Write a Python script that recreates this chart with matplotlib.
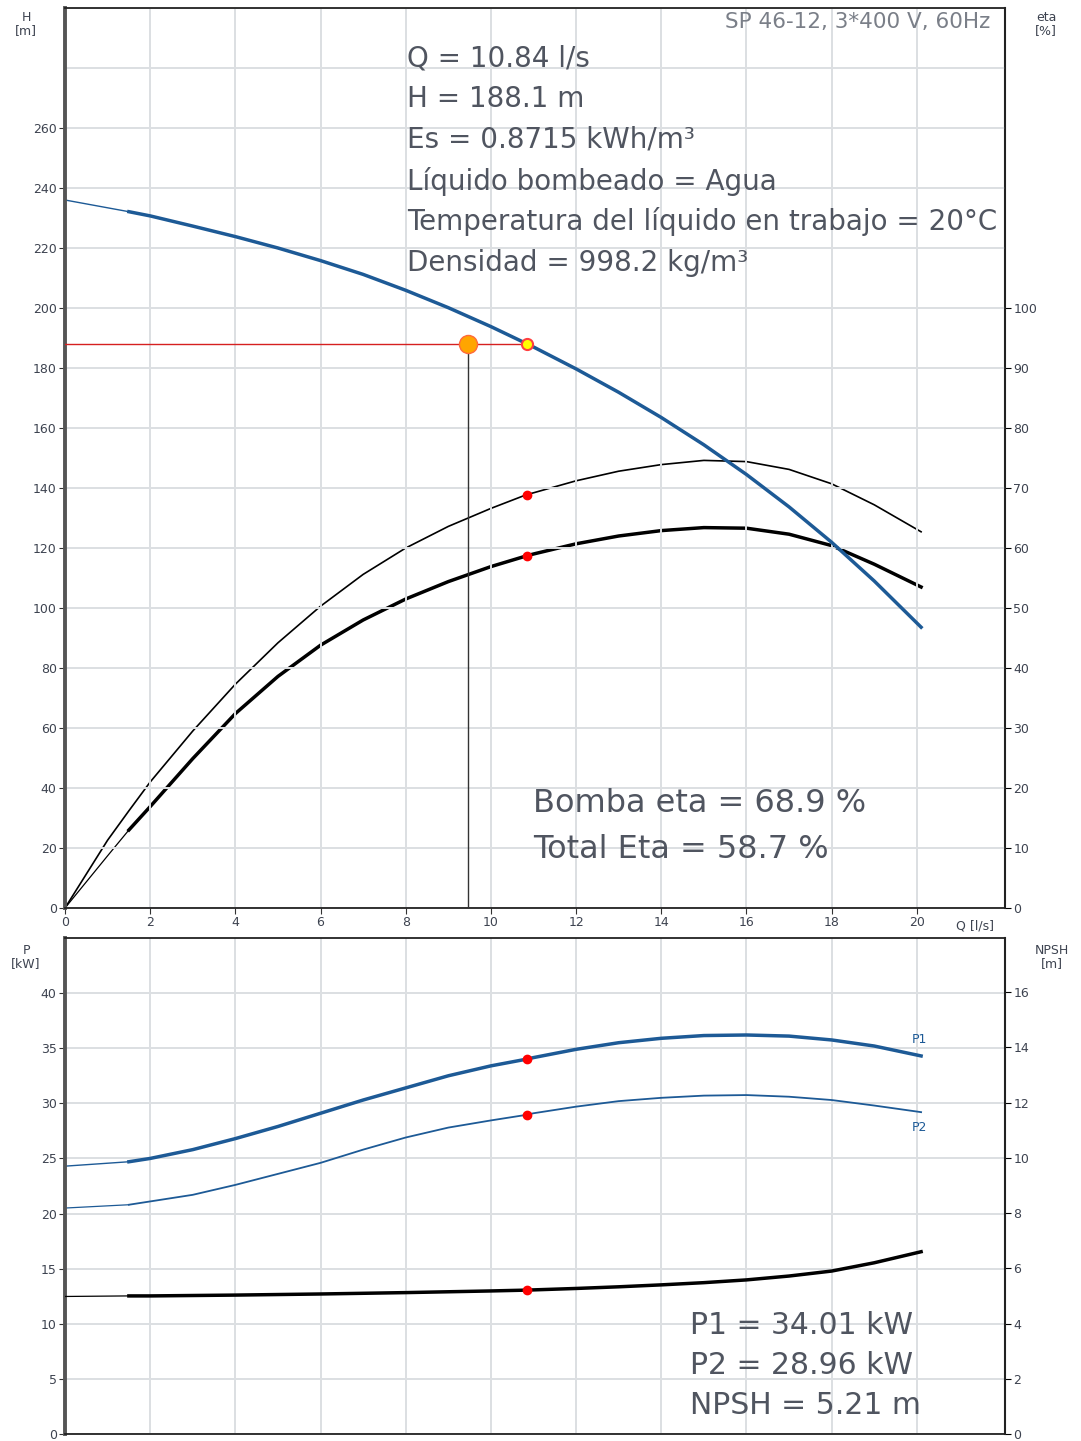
import numpy as np
import matplotlib.pyplot as plt

# data
q_h = [0, 1.5, 2, 3, 4, 5, 6, 7, 8, 9, 10, 10.84, 11, 12, 13, 14, 15, 16, 17, 18, 19, 20.1]
h = [236, 232.1, 230.7, 227.3, 223.8, 220, 215.8, 211.2, 205.9, 200.1, 193.8, 188.1, 187, 179.7, 171.9, 163.5, 154.4, 144.5, 133.7, 121.9, 109, 93.6]

q_eta = [0, 1, 1.5, 2, 3, 4, 5, 6, 7, 8, 9, 10, 10.84, 11, 12, 13, 14, 15, 16, 17, 18, 19, 20.1]
eta_pump = [0, 11.3, 16.2, 21, 29.5, 37.3, 44.2, 50.3, 55.6, 60.0, 63.6, 66.6, 68.9, 69.2, 71.2, 72.8, 73.9, 74.6, 74.4, 73.1, 70.7, 67.2, 62.7]
eta_total = [0, 8.7, 13, 16.9, 24.9, 32.4, 38.6, 43.8, 48.0, 51.5, 54.4, 56.9, 58.7, 59.0, 60.7, 62.0, 62.9, 63.4, 63.3, 62.3, 60.4, 57.3, 53.5]

q_p = [0, 1.5, 2, 3, 4, 5, 6, 7, 8, 9, 10, 10.84, 11, 12, 13, 14, 15, 16, 17, 18, 19, 20.1]
p1 = [24.3, 24.7, 25.0, 25.8, 26.8, 27.9, 29.1, 30.3, 31.4, 32.5, 33.4, 34.01, 34.15, 34.9, 35.5, 35.9, 36.15, 36.2, 36.1, 35.75, 35.2, 34.3]
p2 = [20.5, 20.8, 21.1, 21.7, 22.6, 23.6, 24.6, 25.8, 26.9, 27.8, 28.45, 28.96, 29.1, 29.7, 30.2, 30.5, 30.7, 30.75, 30.6, 30.3, 29.8, 29.2]

q_npsh = [0, 1.5, 2, 4, 6, 8, 10, 10.84, 12, 13, 14, 15, 16, 17, 18, 19, 20.1]
npsh = [4.98, 5.0, 5.0, 5.03, 5.07, 5.12, 5.18, 5.21, 5.27, 5.33, 5.4, 5.48, 5.58, 5.72, 5.9, 6.2, 6.6]

q_op = 10.84
h_op = 188.1
q_req = 9.46

info_top = ['Q = 10.84 l/s', 'H = 188.1 m', 'Es = 0.8715 kWh/m³',
            'Líquido bombeado = Agua',
            'Temperatura del líquido en trabajo = 20°C',
            'Densidad = 998.2 kg/m³']
info_eta = ['Bomba eta = 68.9 %', 'Total Eta = 58.7 %']
info_p = ['P1 = 34.01 kW', 'P2 = 28.96 kW', 'NPSH = 5.21 m']

blue = '#1d5a96'
grid_c = '#dcdfe2'
txt_c = '#505560'
lab_c = '#3d4350'

W, H = 1081, 1441
fig = plt.figure(figsize=(10.81, 14.41), dpi=100)

def ax_rect(x0, y0, x1, y1):
    return [x0 / W, 1 - y1 / H, (x1 - x0) / W, (y1 - y0) / H]

def split(qs, ys, qcut=1.5):
    qs = np.array(qs); ys = np.array(ys)
    return qs[qs <= qcut], ys[qs <= qcut], qs[qs >= qcut], ys[qs >= qcut]

def style(ax):
    ax.set_xlim(0, 22.07)
    ax.set_xticks(np.arange(0, 21, 2))
    ax.grid(True, color=grid_c, lw=1.4)
    ax.set_axisbelow(True)
    for s in ax.spines.values():
        s.set_color('#222222'); s.set_linewidth(1.3)
    ax.spines['left'].set_color('#555555'); ax.spines['left'].set_linewidth(2.8)
    ax.tick_params(labelsize=9, colors='#333333', labelcolor=lab_c, length=4, pad=2)

def twin_style(ax):
    ax.tick_params(labelsize=9, labelcolor=lab_c, length=4, pad=2)
    for s in ax.spines.values():
        s.set_visible(False)
    ax.spines['right'].set_visible(True)
    ax.spines['right'].set_color('#222222'); ax.spines['right'].set_linewidth(1.5)

# ---------- top: H and eta ----------
ax = fig.add_axes(ax_rect(65, 8, 1005, 908))
style(ax)
ax.set_ylim(0, 300)
ax.set_yticks(np.arange(0, 261, 20))
ax.set_yticks([280, 300], minor=True)
ax.tick_params(axis='y', which='minor', length=0)
ax.grid(True, which='minor', axis='y', color=grid_c, lw=1.4)

a, b, c, d = split(q_h, h)
ax.plot(a, b, color=blue, lw=1.0)
ax.plot(c, d, color=blue, lw=2.5)

ax2 = ax.twinx()
ax2.set_ylim(0, 150)
ax2.set_yticks(np.arange(0, 101, 10))
twin_style(ax2)

ax2.plot(q_eta, eta_pump, color='black', lw=1.2)
a, b, c, d = split(q_eta, eta_total)
ax2.plot(a, b, color='black', lw=0.9)
ax2.plot(c, d, color='black', lw=2.5)
i_op = q_eta.index(q_op)
ax2.plot([q_op, q_op], [eta_pump[i_op], eta_total[i_op]], 'o', color='red', ms=6, zorder=5)

# duty point lines
ax.plot([0, q_op], [h_op, h_op], color='#d62020', lw=1.0, zorder=4)
ax.plot([q_req, q_req], [0, h_op], color='#333333', lw=1.0, zorder=4)
ax.plot(q_req, h_op, 'o', color='orange', mec='#ff6a3a', ms=13, zorder=6)
ax.plot(q_op, h_op, 'o', color='yellow', mec='#ff4040', mew=1.5, ms=8, zorder=6)

ax.set_zorder(ax2.get_zorder() + 1)
ax.patch.set_visible(False)

fig.text(975 / W, 1 - 926 / H, 'Q [l/s]', fontsize=9, color=lab_c, ha='center', va='center')
fig.text(26 / W, 1 - 24 / H, 'H\n[m]', fontsize=9, color=lab_c, ha='center', va='center', linespacing=1.0)
fig.text(1046 / W, 1 - 24 / H, 'eta\n[%]', fontsize=9, color=lab_c, ha='center', va='center', linespacing=1.0)
fig.text(990 / W, 1 - 22 / H, 'SP 46-12, 3*400 V, 60Hz', fontsize=15.5, color='#7a7f88',
         ha='right', va='center')

for i, t in enumerate(info_top):
    fig.text(407 / W, 1 - (58 + i * 41) / H, t, fontsize=20, color=txt_c, ha='left', va='center')
for i, t in enumerate(info_eta):
    fig.text(533 / W, 1 - (803 + i * 46) / H, t, fontsize=23, color=txt_c, ha='left', va='center')

# ---------- bottom: P and NPSH ----------
bx = fig.add_axes(ax_rect(65, 938, 1005, 1434))
style(bx)
bx.set_ylim(0, 44.9)
bx.set_yticks(np.arange(0, 41, 5))
bx.set_yticks([45], minor=True)
bx.tick_params(axis='y', which='minor', length=0)
bx.tick_params(axis='x', labelbottom=False, length=0)

a, b, c, d = split(q_p, p1)
bx.plot(a, b, color=blue, lw=1.0)
bx.plot(c, d, color=blue, lw=2.5)
a, b, c, d = split(q_p, p2)
bx.plot(a, b, color=blue, lw=0.9)
bx.plot(c, d, color=blue, lw=1.3)
i_p = q_p.index(q_op)
bx.plot([q_op, q_op], [p1[i_p], p2[i_p]], 'o', color='red', ms=6, zorder=5)
bx.text(20.05, p1[-1] + 0.9, 'P1', fontsize=9, color=blue, ha='center', va='bottom')
bx.text(20.05, p2[-1] - 0.8, 'P2', fontsize=9, color=blue, ha='center', va='top')

bx2 = bx.twinx()
bx2.set_ylim(0, 44.9 * 0.4)
bx2.set_yticks(np.arange(0, 17, 2))
twin_style(bx2)
a, b, c, d = split(q_npsh, npsh)
bx2.plot(a, b, color='black', lw=0.9)
bx2.plot(c, d, color='black', lw=2.5)
bx2.plot(q_op, npsh[q_npsh.index(q_op)], 'o', color='red', ms=6, zorder=5)

fig.text(26 / W, 1 - 957 / H, 'P\n[kW]', fontsize=9, color=lab_c, ha='center', va='center', linespacing=1.0)
fig.text(1052 / W, 1 - 957 / H, 'NPSH\n[m]', fontsize=9, color=lab_c, ha='center', va='center', linespacing=1.0)

for i, t in enumerate(info_p):
    fig.text(690 / W, 1 - (1326 + i * 40) / H, t, fontsize=21.5, color=txt_c, ha='left', va='center')

fig.savefig('out.png', dpi=100)
